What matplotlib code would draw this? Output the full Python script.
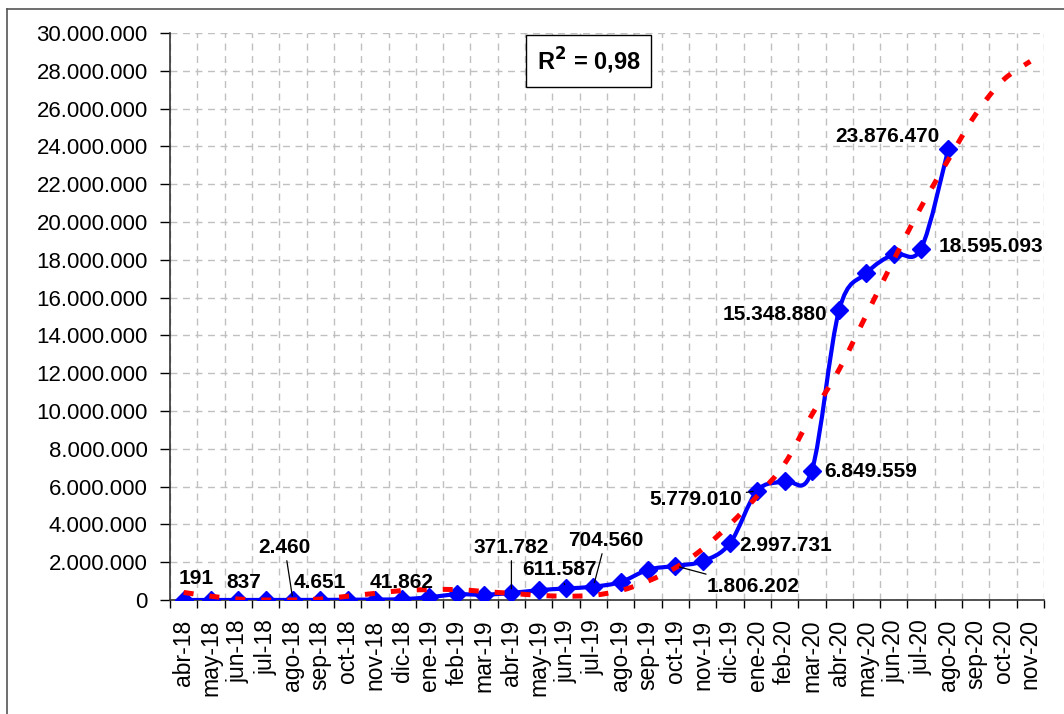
import numpy as np
import matplotlib
matplotlib.use("Agg")
import matplotlib.pyplot as plt
from matplotlib.path import Path
from matplotlib.patches import PathPatch
from matplotlib.lines import Line2D
from matplotlib.ticker import FuncFormatter, MultipleLocator

plt.rcParams['font.family'] = ['Liberation Sans', 'DejaVu Sans']

months = ["abr-18", "may-18", "jun-18", "jul-18", "ago-18", "sep-18", "oct-18", "nov-18",
          "dic-18", "ene-19", "feb-19", "mar-19", "abr-19", "may-19", "jun-19", "jul-19",
          "ago-19", "sep-19", "oct-19", "nov-19", "dic-19", "ene-20", "feb-20", "mar-20",
          "abr-20", "may-20", "jun-20", "jul-20", "ago-20", "sep-20", "oct-20", "nov-20"]

# observed values (abr-18 .. ago-20)
values = [191, 500, 837, 1500, 2460, 4651, 12000, 25000,
          41862, 150000, 300000, 280000, 371782, 520000, 611587, 704560,
          950000, 1600000, 1806202, 2050000, 2997731, 5779010, 6300000, 6849559,
          15348880, 17300000, 18300000, 18595093, 23876470]

# polynomial trend line (abr-18 .. nov-20)
trend = [400000, 200000, 50000, 0, 0, 50000, 200000, 350000,
         500000, 550000, 550000, 450000, 350000, 250000, 200000, 250000,
         500000, 1000000, 1700000, 2700000, 4000000, 5500000, 7200000, 9800000,
         12200000, 15100000, 18000000, 20800000, 23300000, 25700000, 27500000, 28500000]

labelled = [0, 2, 4, 5, 8, 12, 14, 15, 18, 20, 21, 23, 24, 27, 28]
# label text positions (x in category index, y in millions), layout only
label_pos = {0: (0.45, 1.15), 2: (2.2, 0.9), 4: (3.7, 2.8), 5: (5.0, 0.95),
             8: (7.97, 0.9), 12: (12.0, 2.8), 14: (13.75, 1.6), 15: (15.45, 3.17),
             18: (20.85, 0.7), 20: (22.05, 2.86), 21: (18.75, 5.3), 23: (25.15, 6.8),
             24: (21.65, 15.08), 27: (29.55, 18.7), 28: (25.75, 24.55)}
leaders = [4, 12, 14, 15, 18, 21]


def smooth_path(xs, ys):
    # Excel-like smoothed line: cubic bezier segments through the points
    pts = np.column_stack([xs, ys])
    n = len(pts)
    verts = [pts[0]]
    codes = [Path.MOVETO]
    for i in range(n - 1):
        p0 = pts[i - 1] if i > 0 else pts[i]
        p1 = pts[i]
        p2 = pts[i + 1]
        p3 = pts[i + 2] if i + 2 < n else pts[i + 1]
        verts += [p1 + (p2 - p0) / 6, p2 - (p3 - p1) / 6, p2]
        codes += [Path.CURVE4] * 3
    return Path(verts, codes)


x_obs = np.arange(len(values))
y_obs = np.array(values, dtype=float)
x_tr = np.arange(len(trend))

fig = plt.figure(figsize=(10.64, 7.14), dpi=100)
ax = fig.add_axes([170 / 1064, 114 / 714, 874 / 1064, 567 / 714])

# outer chart border (top and left visible)
fig.add_artist(Line2D([7 / 1064, 7 / 1064], [0, 1 - 9 / 714], color="#555555", lw=1.2))
fig.add_artist(Line2D([7 / 1064, 1], [1 - 9 / 714, 1 - 9 / 714], color="#555555", lw=1.2))

ax.add_patch(PathPatch(smooth_path(x_obs, y_obs), fill=False, edgecolor="#0000ff",
                       lw=3, zorder=4))
ax.plot(x_obs, y_obs, linestyle="none", marker="D", markersize=9,
        color="#0000ff", zorder=5)

ax.add_patch(PathPatch(smooth_path(x_tr, np.array(trend, dtype=float)), fill=False,
                       edgecolor="#ff0000", lw=3.6, linestyle=(0, (2, 3.2)), zorder=6))

for i in labelled:
    txt = f"{values[i]:,}".replace(",", ".")
    lx, ly = label_pos[i]
    if i in leaders:
        ax.annotate(txt, xy=(x_obs[i], y_obs[i]), xytext=(lx, ly * 1e6),
                    ha="center", va="center", fontsize=15, fontweight="bold",
                    arrowprops=dict(arrowstyle="-", color="black", lw=0.9,
                                    shrinkA=1, shrinkB=3), zorder=7)
    else:
        ax.text(lx, ly * 1e6, txt, ha="center", va="center", fontsize=15,
                fontweight="bold", zorder=7)

ax.text(0.479, 0.951, r"R$^\mathbf{2}$ = 0,98", transform=ax.transAxes, ha="center",
        va="center", fontsize=17, fontweight="bold",
        bbox=dict(boxstyle="square,pad=0.45", facecolor="white", edgecolor="black", lw=1),
        zorder=8)

ax.set_xlim(-0.5, len(months) - 0.5)
ax.set_ylim(0, 30e6)
ax.yaxis.set_major_locator(MultipleLocator(2e6))
ax.yaxis.set_major_formatter(FuncFormatter(lambda v, p: f"{int(round(v)):,}".replace(",", ".")))
ax.set_xticks(np.arange(len(months)))
ax.set_xticklabels(months, rotation=90, fontsize=16.5)
ax.set_xticks(np.arange(len(months) + 1) - 0.5, minor=True)
ax.tick_params(axis="x", which="major", length=0, pad=14)
ax.tick_params(axis="x", which="minor", length=6, direction="out", width=1)
ax.tick_params(axis="y", labelsize=16, length=7, direction="out", width=1, pad=9)

ax.grid(True, axis="y", which="major", color="#c0c0c0", linestyle=(0, (5, 4)), lw=1)
ax.grid(True, axis="x", which="minor", color="#c0c0c0", linestyle=(0, (5, 4)), lw=1)
ax.set_axisbelow(True)
for s in ["top", "right"]:
    ax.spines[s].set_visible(False)
for s in ["left", "bottom"]:
    ax.spines[s].set_color("#333333")
    ax.spines[s].set_linewidth(1.2)

fig.savefig("out.png", dpi=100)
